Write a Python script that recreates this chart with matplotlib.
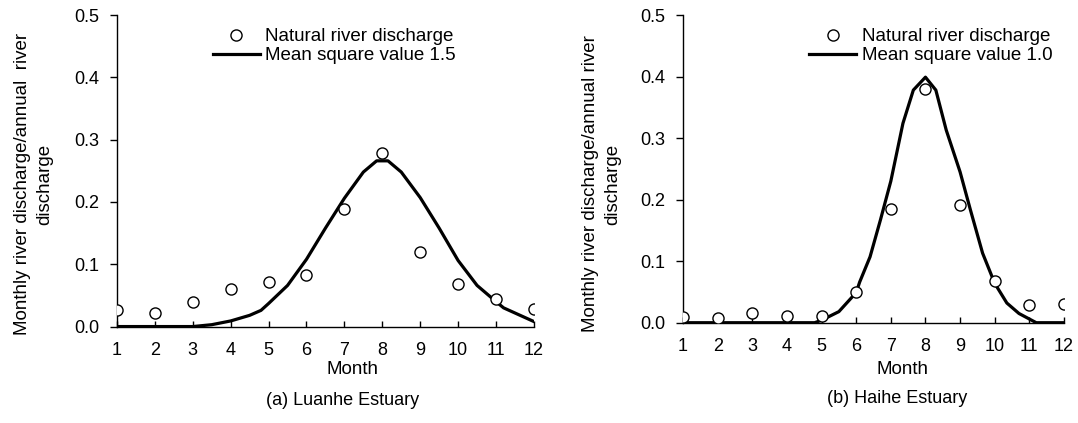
import numpy as np
import matplotlib
matplotlib.use("Agg")
import matplotlib.pyplot as plt
import matplotlib.ticker as mticker

plt.rcParams['font.family'] = ['Liberation Sans', 'DejaVu Sans']

months = [1, 2, 3, 4, 5, 6, 7, 8, 9, 10, 11, 12]

# (a) Luanhe Estuary
luanhe_obs = [0.026, 0.022, 0.040, 0.060, 0.071, 0.082, 0.189, 0.279, 0.119, 0.068, 0.045, 0.028]
luanhe_fit_x = [1, 2, 3, 3.5, 4, 4.5, 4.8, 5, 5.5, 6, 6.5, 7, 7.5,
                7.85, 8.15, 8.5, 9, 9.5, 10, 10.5, 11, 11.2, 12]
luanhe_fit_y = [0, 0, 0, 0.003, 0.009, 0.018, 0.026, 0.037, 0.066, 0.108, 0.158,
                0.206, 0.248, 0.266, 0.266, 0.248, 0.207, 0.158, 0.106, 0.066, 0.040, 0.030, 0.008]

# (b) Haihe Estuary
haihe_obs = [0.010, 0.007, 0.016, 0.011, 0.011, 0.050, 0.184, 0.380, 0.192, 0.068, 0.028, 0.031]
haihe_fit_x = [1, 2, 3, 4, 4.8, 5, 5.5, 6, 6.1, 6.4, 6.7, 7, 7.35, 7.65, 8, 8.3, 8.6,
               9, 9.3, 9.65, 10, 10.35, 10.7, 11.2, 12]
haihe_fit_y = [0, 0, 0, 0, 0, 0.004, 0.018, 0.049, 0.066, 0.107, 0.167, 0.230, 0.324, 0.378,
               0.399, 0.378, 0.313, 0.245, 0.183, 0.113, 0.064, 0.032, 0.015, 0, 0]

panels = [
    dict(obs=luanhe_obs, fx=luanhe_fit_x, fy=luanhe_fit_y, fit_label="Mean square value 1.5",
         ylabel="Monthly river discharge/annual  river\ndischarge", title="(a) Luanhe Estuary",
         rect=[0.1085, 0.228, 0.3868, 0.7364], ylab=(-0.152, 0.4575), xlab=(0.566, -0.112),
         leg=(0.2297, 0.958), title_xy=(343 / 1078, 1 - 400 / 423)),
    dict(obs=haihe_obs, fx=haihe_fit_x, fy=haihe_fit_y, fit_label="Mean square value 1.0",
         ylabel="Monthly river discharge/annual river\ndischarge", title="(b) Haihe Estuary",
         rect=[0.6336, 0.2371, 0.3534, 0.7274], ylab=(-0.161, 0.451), xlab=(0.577, -0.126),
         leg=(0.331, 0.958), title_xy=(897 / 1078, 1 - 398 / 423)),
]

fig = plt.figure(figsize=(10.78, 4.23), dpi=100)

for p in panels:
    ax = fig.add_axes(p["rect"])
    ax.plot(months, p["obs"], "o", mfc="white", mec="black", mew=1.0, ms=8,
            ls="none", label="Natural river discharge", zorder=3)
    ax.plot(p["fx"], p["fy"], color="black", lw=2.3, label=p["fit_label"], zorder=2)

    ax.set_xlim(1, 12)
    ax.set_ylim(0, 0.5)
    ax.set_xticks(months)
    ax.set_yticks([0, 0.1, 0.2, 0.3, 0.4, 0.5])
    ax.yaxis.set_major_formatter(mticker.FormatStrFormatter("%.1f"))
    ax.tick_params(axis="x", direction="in", length=4.5, width=1, labelsize=13, pad=11)
    ax.tick_params(axis="y", direction="out", length=5, width=1, labelsize=13, pad=8)
    for s in ["top", "right"]:
        ax.spines[s].set_visible(False)
    for s in ["left", "bottom"]:
        ax.spines[s].set_linewidth(1.0)

    ax.set_ylabel(p["ylabel"], fontsize=13.5, linespacing=1.45)
    ax.yaxis.set_label_coords(*p["ylab"])
    ax.set_xlabel("Month", fontsize=13.5)
    ax.xaxis.set_label_coords(*p["xlab"])

    ax.legend(loc="upper left", bbox_to_anchor=p["leg"], frameon=False, fontsize=13.5,
              handlelength=2.5, handletextpad=0.3, labelspacing=0.1, borderpad=0,
              borderaxespad=0, numpoints=1)

    fig.text(p["title_xy"][0], p["title_xy"][1], p["title"], ha="center", va="center", fontsize=13)

fig.savefig("out.png", dpi=100)
